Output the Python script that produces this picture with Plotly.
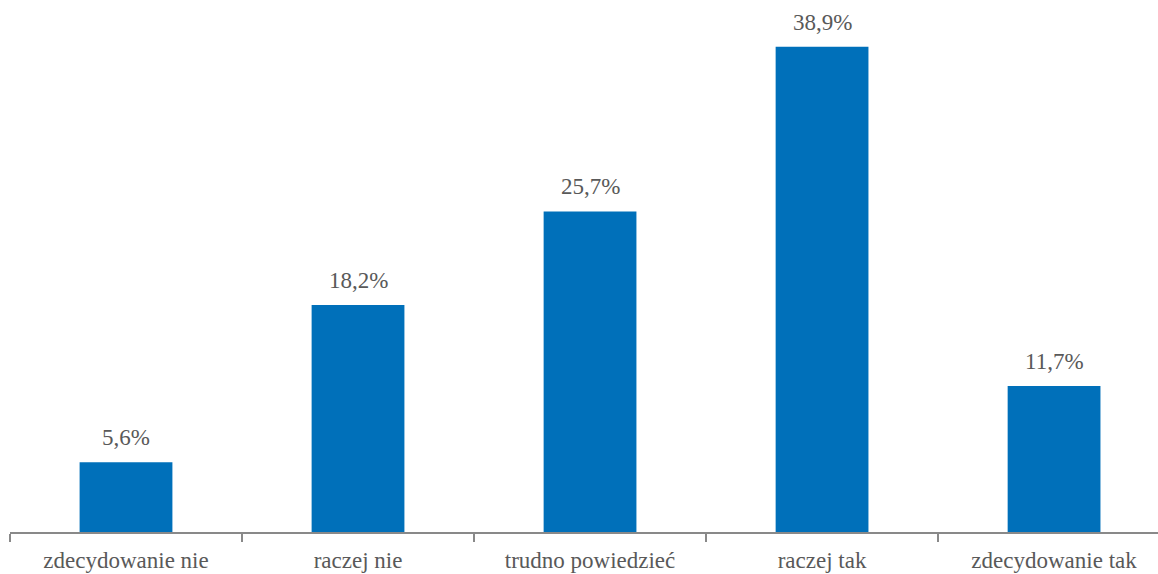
import plotly.graph_objects as go

categories = ["zdecydowanie nie", "raczej nie", "trudno powiedzieć", "raczej tak", "zdecydowanie tak"]
values = [5.6, 18.2, 25.7, 38.9, 11.7]
labels = ["5,6%", "18,2%", "25,7%", "38,9%", "11,7%"]

FONT = "'Liberation Serif', 'DejaVu Serif', serif"
W, H = 1158, 574
fig = go.Figure()
fig.add_trace(go.Bar(x=categories, y=values, marker=dict(color="#0070BA", line=dict(width=0)),
                     hoverinfo="skip"))
for c, v, t in zip(categories, values, labels):
    fig.add_annotation(x=c, y=v, text=t, showarrow=False, yanchor="bottom", yshift=10,
                       font=dict(family=FONT, size=23, color="#595959"))

fig.update_layout(
    width=W, height=H, margin=dict(l=10, r=0, t=33, b=42),
    plot_bgcolor="white", paper_bgcolor="white", showlegend=False, bargap=0.6,
    font=dict(family=FONT, size=23, color="#595959"),
)
fig.update_xaxes(type="category", range=[-0.5, 4.448], tickson="boundaries", ticks="outside",
                 ticklen=8, tickwidth=2, tickcolor="#898989", showline=True, linecolor="#898989",
                 linewidth=2, showgrid=False, ticklabelstandoff=6, automargin=False,
                 tickfont=dict(family=FONT, size=23, color="#595959"))
fig.update_yaxes(range=[0, 40], visible=False, showgrid=False, automargin=False)
fig.write_html("out.html")
